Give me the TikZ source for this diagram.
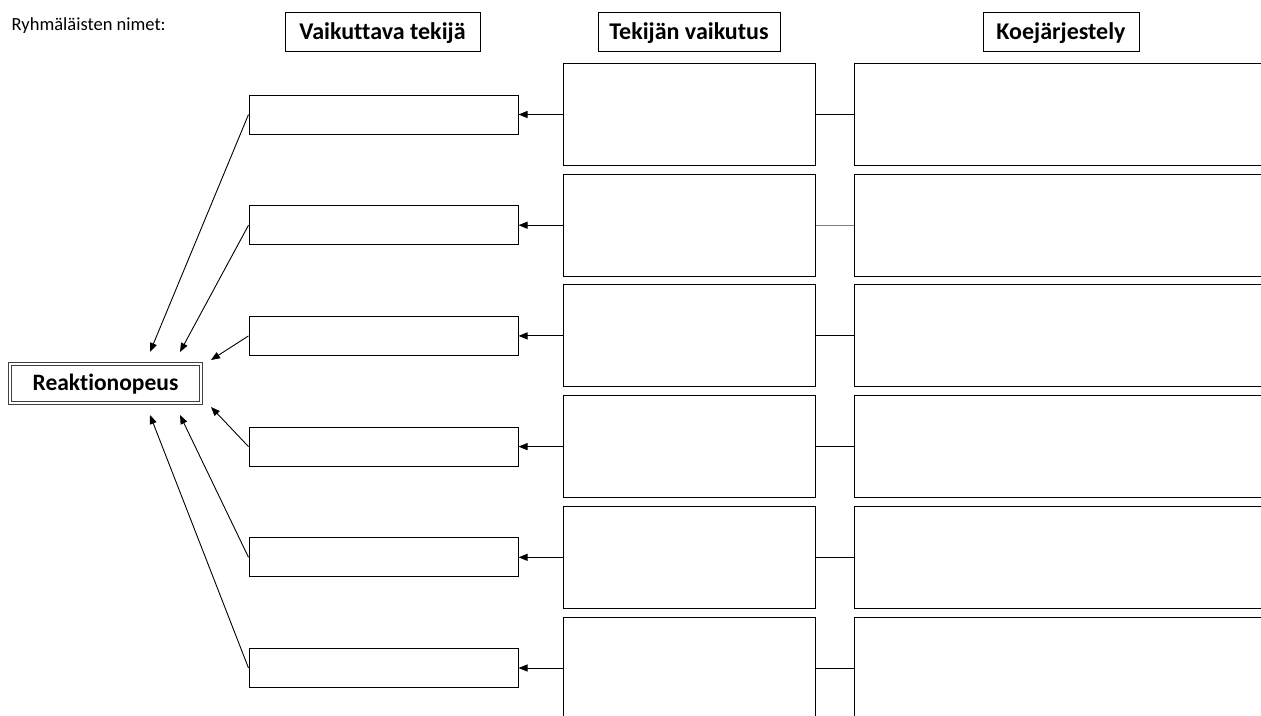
\documentclass[tikz,border=0pt]{standalone}
\usepackage{fontspec}
\setmainfont{Carlito}[Ligatures=NoCommon]
\usetikzlibrary{arrows.meta}

\begin{document}
\begin{tikzpicture}[x=1pt, y=-1pt,
  box/.style={draw, line width=1pt, inner sep=0pt},
  head/.style={box, minimum height=39pt, text height=15pt, text depth=0pt, font=\bfseries\fontsize{24}{26}\selectfont},
  tekija/.style={box, minimum width=269pt, minimum height=39pt},
  vaikutus/.style={box, minimum width=252pt, minimum height=102pt},
  koe/.style={box, minimum width=460pt, minimum height=102pt},
  nuoli/.style={line width=0.9pt, -{Triangle[length=9pt, width=7pt]}},
  viiva/.style={line width=1pt}]
\useasboundingbox (0,0) rectangle (1261,715);
\clip (0,0) rectangle (1261,715);

\node[anchor=base west, inner sep=0pt, font=\fontsize{18.5}{21}\selectfont] (nimet) at (11.5,30) {Ryhmäläisten nimet:};

\node[head, minimum width=195pt] (otsikko1) at (382.5,31.5) {Vaikuttava tekijä};
\node[head, minimum width=182pt] (otsikko2) at (689,31.5) {Tekijän vaikutus};
\node[head, minimum width=156pt] (otsikko3) at (1061,31.5) {Koejärjestely};

\node[draw=black!75, double, double distance=1.6pt, line width=0.8pt, inner sep=0pt, minimum width=191pt, minimum height=39pt, text height=14pt, text depth=0pt, font=\bfseries\fontsize{23.5}{26}\selectfont] (reak) at (105.5,383.5) {Reaktionopeus};

% vaikuttavat tekijat
\node[tekija] (t1) at (383.5,114.5) {};
\node[tekija] (t2) at (383.5,225.2) {};
\node[tekija] (t3) at (383.5,335.9) {};
\node[tekija] (t4) at (383.5,446.6) {};
\node[tekija] (t5) at (383.5,557.3) {};
\node[tekija] (t6) at (383.5,668) {};

% tekijan vaikutus
\node[vaikutus] (v1) at (689,114.5) {};
\node[vaikutus] (v2) at (689,225.2) {};
\node[vaikutus] (v3) at (689,335.9) {};
\node[vaikutus] (v4) at (689,446.6) {};
\node[vaikutus] (v5) at (689,557.3) {};
\node[vaikutus] (v6) at (689,668) {};

% koejarjestely
\node[koe] (k1) at (1084,114.5) {};
\node[koe] (k2) at (1084,225.2) {};
\node[koe] (k3) at (1084,335.9) {};
\node[koe] (k4) at (1084,446.6) {};
\node[koe] (k5) at (1084,557.3) {};
\node[koe] (k6) at (1084,668) {};

\coordinate (r1) at (150,352);
\coordinate (r2) at (180,352);
\coordinate (r3) at (211,360);
\coordinate (r4) at (211,407);
\coordinate (r5) at (180,415);
\coordinate (r6) at (150,415);

\draw[nuoli] (t1.west) -- (r1);
\draw[nuoli] (t2.west) -- (r2);
\draw[nuoli] (t3.west) -- (r3);
\draw[nuoli] (t4.west) -- (r4);
\draw[nuoli] (t5.west) -- (r5);
\draw[nuoli] (t6.west) -- (r6);

\draw[nuoli] (v1.west) -- (t1.east);
\draw[nuoli] (v2.west) -- (t2.east);
\draw[nuoli] (v3.west) -- (t3.east);
\draw[nuoli] (v4.west) -- (t4.east);
\draw[nuoli] (v5.west) -- (t5.east);
\draw[nuoli] (v6.west) -- (t6.east);

\draw[viiva] (k1.west) -- (v1.east);
\draw[line width=0.6pt, black!50] (k2.west) -- (v2.east);
\draw[viiva] (k3.west) -- (v3.east);
\draw[viiva] (k4.west) -- (v4.east);
\draw[viiva] (k5.west) -- (v5.east);
\draw[viiva] (k6.west) -- (v6.east);

\end{tikzpicture}
\end{document}
